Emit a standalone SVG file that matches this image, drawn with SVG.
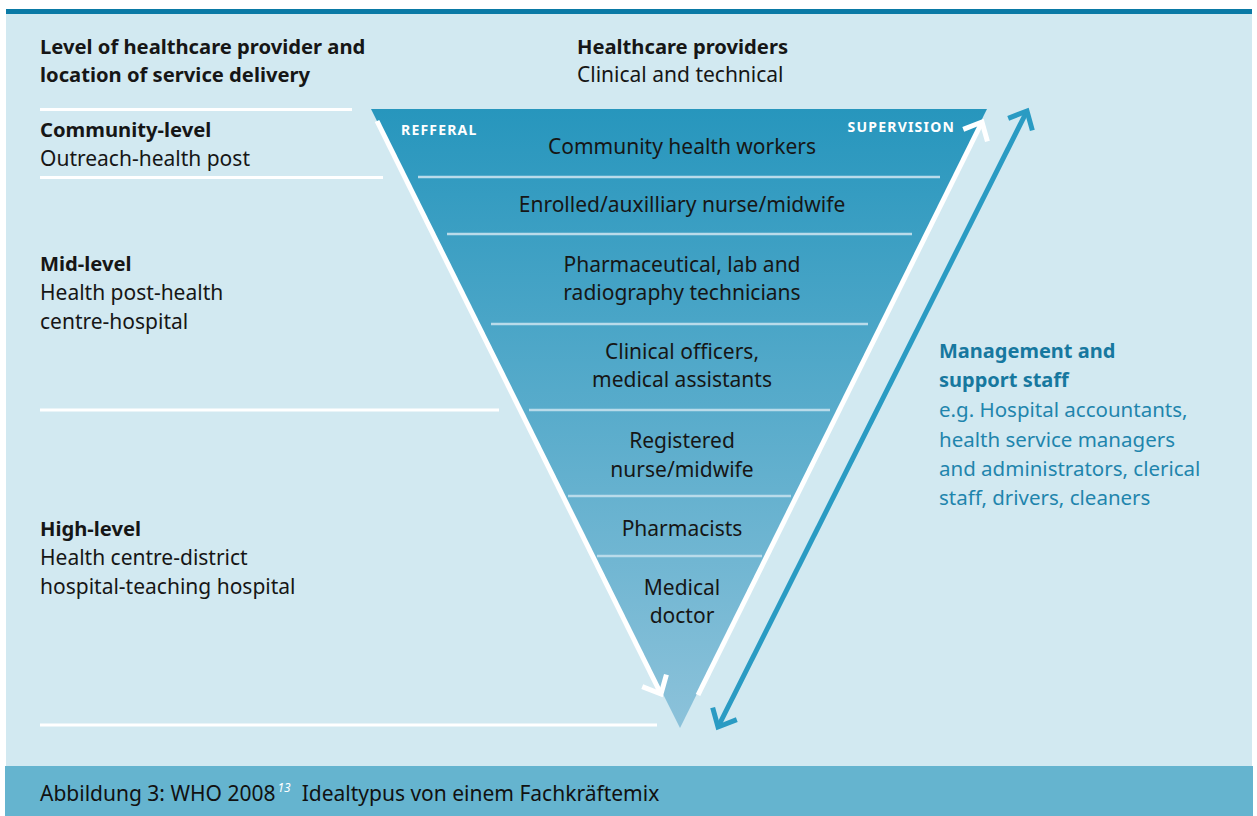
<svg xmlns="http://www.w3.org/2000/svg" width="1257" height="816" viewBox="0 0 1257 816">
  <style>
    text { font-family: "Noto Sans", "DejaVu Sans", sans-serif; fill: #161616; }
    .hd { font-size: 20.2px; font-weight: 700; }
    .tx { font-size: 21px; }
    .tier { font-size: 21px; text-anchor: middle; }
    .tag { font-size: 14px; font-weight: 700; fill: #ffffff; letter-spacing: 1.2px; }
    .mgmt-hd { font-size: 20px; font-weight: 700; fill: #17789f; }
    .mgmt { font-size: 20.5px; fill: #1f85ad; }
    .rule { stroke: #ffffff; stroke-width: 3; }
    .divider { stroke: #b9dbea; stroke-width: 2.5; }
    .flow { fill: none; stroke: #ffffff; stroke-width: 5; }
    .support { fill: none; stroke: #2a9bc3; stroke-width: 5; }
    .cap { font-size: 21px; fill: #111111; }
  </style>
  <defs>
    <linearGradient id="tierFill" x1="0" y1="109" x2="0" y2="728" gradientUnits="userSpaceOnUse">
      <stop offset="0" stop-color="#2796bd"/>
      <stop offset="1" stop-color="#8cc2da"/>
    </linearGradient>
    <marker id="headWhite" markerUnits="userSpaceOnUse" viewBox="-20 -16 24 32" markerWidth="24" markerHeight="32" refX="0" refY="0" orient="auto-start-reverse" overflow="visible">
      <path d="M-15,-13.5 L0,0 L-15,13.5" fill="none" stroke="#ffffff" stroke-width="5"/>
    </marker>
    <marker id="headBlue" markerUnits="userSpaceOnUse" viewBox="-20 -16 24 32" markerWidth="24" markerHeight="32" refX="0" refY="0" orient="auto-start-reverse" overflow="visible">
      <path d="M-15,-13.5 L0,0 L-15,13.5" fill="none" stroke="#2a9bc3" stroke-width="5"/>
    </marker>
  </defs>

  <!-- panel -->
  <rect x="0" y="0" width="1257" height="816" fill="#ffffff"/>
  <rect x="6" y="13" width="1246" height="753" fill="#d2e9f1"/>
  <rect x="6" y="9" width="1246" height="5" fill="#0a7aa6"/>
  <rect x="5" y="766" width="1248" height="50" fill="#65b4cf"/>

  <!-- column headings -->
  <g id="heading-levels">
    <text class="hd" x="40" y="54">Level of healthcare provider and</text>
    <text class="hd" x="40" y="82">location of service delivery</text>
  </g>
  <g id="heading-providers">
    <text class="hd" x="577" y="54">Healthcare providers</text>
    <text class="tx" x="577" y="82">Clinical and technical</text>
  </g>

  <!-- level separators -->
  <g id="level-rules">
    <line class="rule" x1="40" y1="109.5" x2="352" y2="109.5"/>
    <line class="rule" x1="40" y1="177.5" x2="383" y2="177.5"/>
    <line class="rule" x1="40" y1="410" x2="499" y2="410"/>
    <line class="rule" x1="40" y1="725" x2="657" y2="725"/>
  </g>

  <g id="level-community">
    <text class="hd" x="40" y="137">Community-level</text>
    <text class="tx" x="40" y="166">Outreach-health post</text>
  </g>
  <g id="level-mid">
    <text class="hd" x="40" y="271">Mid-level</text>
    <text class="tx" x="40" y="300">Health post-health</text>
    <text class="tx" x="40" y="329">centre-hospital</text>
  </g>
  <g id="level-high">
    <text class="hd" x="40" y="536">High-level</text>
    <text class="tx" x="40" y="565">Health centre-district</text>
    <text class="tx" x="40" y="594">hospital-teaching hospital</text>
  </g>

  <!-- provider pyramid -->
  <g id="pyramid">
    <polygon points="371,109 987,109 680,728" fill="url(#tierFill)"/>
    <line class="divider" x1="418" y1="177" x2="940" y2="177"/>
    <line class="divider" x1="447" y1="234" x2="912" y2="234"/>
    <line class="divider" x1="491" y1="324" x2="868" y2="324"/>
    <line class="divider" x1="529" y1="410" x2="830" y2="410"/>
    <line class="divider" x1="568" y1="496" x2="791" y2="496"/>
    <line class="divider" x1="597" y1="556" x2="762" y2="556"/>
  </g>

  <g id="tier-chw"><text class="tier" x="682" y="154">Community health workers</text></g>
  <g id="tier-enrolled"><text class="tier" x="682" y="212">Enrolled/auxilliary nurse/midwife</text></g>
  <g id="tier-technicians">
    <text class="tier" x="682" y="272">Pharmaceutical, lab and</text>
    <text class="tier" x="682" y="300">radiography technicians</text>
  </g>
  <g id="tier-clinical">
    <text class="tier" x="682" y="359">Clinical officers,</text>
    <text class="tier" x="682" y="387">medical assistants</text>
  </g>
  <g id="tier-registered">
    <text class="tier" x="682" y="448">Registered</text>
    <text class="tier" x="682" y="477">nurse/midwife</text>
  </g>
  <g id="tier-pharmacists"><text class="tier" x="682" y="536">Pharmacists</text></g>
  <g id="tier-doctor">
    <text class="tier" x="682" y="595">Medical</text>
    <text class="tier" x="682" y="623">doctor</text>
  </g>

  <g id="label-referral"><text class="tag" x="401" y="135">REFFERAL</text></g>
  <g id="label-supervision"><text class="tag" x="955" y="132" text-anchor="end">SUPERVISION</text></g>

  <!-- connectors -->
  <g id="connectors">
    <line class="flow" x1="377" y1="121" x2="661" y2="694" marker-end="url(#headWhite)"/>
    <line class="flow" x1="698" y1="695" x2="982" y2="122" marker-end="url(#headWhite)"/>
    <line class="support" x1="718" y1="727" x2="1027" y2="111" marker-start="url(#headBlue)" marker-end="url(#headBlue)"/>
  </g>

  <g id="support-staff">
    <text class="mgmt-hd" x="939" y="358">Management and</text>
    <text class="mgmt-hd" x="939" y="387">support staff</text>
    <text class="mgmt" x="939" y="417">e.g. Hospital accountants,</text>
    <text class="mgmt" x="939" y="447">health service managers</text>
    <text class="mgmt" x="939" y="476">and administrators, clerical</text>
    <text class="mgmt" x="939" y="505">staff, drivers, cleaners</text>
  </g>

  <!-- caption -->
  <g id="caption">
    <text class="cap" x="40" y="801">Abbildung 3: WHO 2008<tspan dx="2" dy="-9" font-size="12" font-style="italic" fill="#ffffff">13</tspan><tspan dx="11" dy="9">Idealtypus von einem Fachkräftemix</tspan></text>
  </g>
</svg>
